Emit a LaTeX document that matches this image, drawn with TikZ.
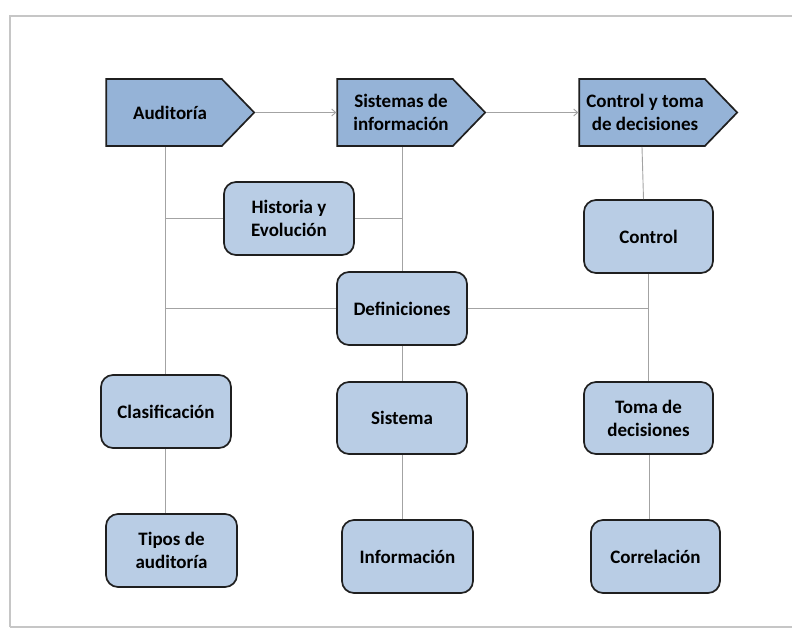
\documentclass[tikz,border=0pt]{standalone}
\usepackage{fontspec}
\setmainfont{Carlito}
\usetikzlibrary{shapes.symbols,arrows.meta,calc}

\definecolor{headblue}{HTML}{95B3D7}
\definecolor{boxblue}{HTML}{B9CDE5}
\definecolor{linegray}{HTML}{A3A3A3}
\definecolor{framegray}{HTML}{C6C6C6}

% nudges the text of a heading to the right, off the pointer
\newcommand\hdpad[1][12pt]{\hspace*{#1}}

\begin{document}
\begin{tikzpicture}[x=1pt, y=-1pt,
    font=\fontsize{19}{23}\selectfont\bfseries,
    head/.style = {signal, signal to=east, signal from=nowhere, signal pointer angle=92,
        draw=black!88, line width=1.7pt, fill=headblue, minimum height=67pt, inner sep=1pt,
        align=center},
    topic/.style = {rectangle, rounded corners=12pt, draw=black!88, line width=1.7pt,
        fill=boxblue, minimum width=130pt, minimum height=73pt, align=center},
    link/.style = {draw=linegray, line width=0.9pt},
    flow/.style = {link, -{Straight Barb[length=4pt, width=7pt]}}]
    \useasboundingbox (0,0) rectangle (792,630);
    % frame
    \draw [framegray, line width=1.6pt] (10,627) -- (10,16) -- (792,16);
    \draw [framegray, line width=1.6pt] (10,627) -- (792,627);

    \node[head, minimum width=148pt] (aud) at (164,112.5) {\hdpad Auditoría};
    \node[head, minimum width=148pt] (sis) at (395,112.5) {\hdpad Sistemas de\\\hdpad información};
    \node[head, minimum width=158pt] (cyt) at (642,112.5) {\hdpad[6pt]Control y toma\\\hdpad[6pt]de decisiones};

    \node[topic] (his) at (289,218.5) {Historia y\\Evolución};
    \node[topic, minimum width=129pt] (ctl) at (648.5,236.5) {Control};
    \node[topic] (def) at (402,308.5) {Definiciones};
    \node[topic] (cla) at (166,411.5) {Clasificación};
    \node[topic, minimum height=72pt] (sist) at (402,418) {Sistema};
    \node[topic, minimum width=129pt, minimum height=72pt] (tom) at (648.5,418) {Toma de\\decisiones};
    \node[topic, minimum width=131pt] (tip) at (171.5,550.5) {Tipos de\\auditoría};
    \node[topic, minimum width=131pt] (inf) at (407.5,556.5) {Información};
    \node[topic, minimum width=129pt] (cor) at (655.5,556.5) {Correlación};

    \draw [flow] (aud.east) -- (sis.west);
    \draw [flow] (sis.east) -- (cyt.west);

    % left column
    \draw [link] ($(aud.south -| cla)+(-1,0)$) -- ($(cla.north)+(-1,0)$);
    \draw [link] ($(his.west -| cla)+(-1,0)$) -- (his.west);
    \draw [link] ($(def.west -| cla)+(-1,0)$) -- (def.west);
    \draw [link] ($(cla.south)+(-1,0)$) -- ($(cla.south |- tip.north)+(-1,0)$);

    % middle column
    \draw [link] (sis.south -| def) -- (def.north);
    \draw [link] (his.east) -- (his.east -| def);
    \draw [link] (def.south) -- (sist.north);
    \draw [link] (sist.south) -- (sist.south |- inf.north);

    % right column
    \draw [link] (cyt.south) -- ($(ctl.north)+(-5,0)$);
    \draw [link] (ctl.south) -- (tom.north);
    \draw [link] (def.east) -- (def.east -| ctl);
    \draw [link] ($(tom.south)+(1,0)$) -- ($(tom.south |- cor.north)+(1,0)$);
\end{tikzpicture}
\end{document}
